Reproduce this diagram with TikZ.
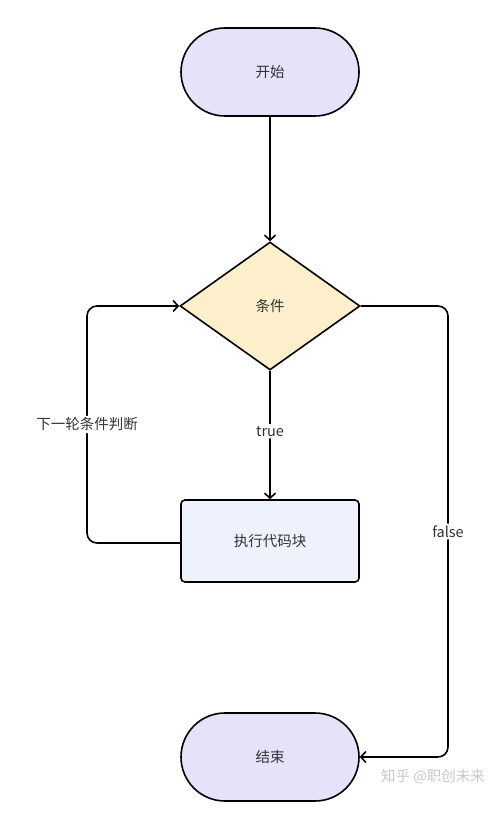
\documentclass[tikz,border=0pt]{standalone}
\usepackage{fontspec}
\setmainfont{Noto Sans CJK SC}
\usetikzlibrary{arrows.meta,shapes.geometric}
\definecolor{termfill}{HTML}{E7E1FA}
\definecolor{condfill}{HTML}{FDEFCB}
\definecolor{blockfill}{HTML}{EEF2FD}
\definecolor{txtgray}{HTML}{333333}
\tikzset{
  every node/.style={font=\fontsize{14.5}{17}\selectfont,text=txtgray},
  term/.style={draw=black,line width=1.6pt,fill=termfill,rounded corners=44pt,
    minimum width=178pt,minimum height=88pt},
  cond/.style={diamond,draw=black,line width=1.6pt,fill=condfill,inner sep=0pt,
    minimum width=180pt,minimum height=128pt,aspect=1.4},
  block/.style={draw=black,line width=1.6pt,fill=blockfill,rounded corners=4pt,
    minimum width=178pt,minimum height=82pt},
  flow/.style={-{Straight Barb[length=5pt,width=11pt,line width=1.6pt]},line width=1.6pt,rounded corners=10pt},
  lbl/.style={fill=white,inner sep=2pt}
}
\begin{document}
\begin{tikzpicture}[x=1pt,y=-1pt]
\useasboundingbox (0,0) rectangle (500,826);
% \draw[help lines] (0,0) grid (500,826);
\node (start) [term] at (270,72) {开始};
\node (cond) [cond] at (270,306) {条件};
\node (body) [block] at (270,541) {执行代码块};
\node (stop) [term] at (270,757) {结束};
%
\coordinate (loopbot) at (87,543);
\coordinate (looptop) at (87,306);
\coordinate (falsetop) at (448,306);
\coordinate (falsebot) at (448,757);
%
\draw[flow] (start) -- (cond.north);
\draw[flow] (cond.south) -- node[lbl,pos=0.47] {true} (body.north);
\draw[flow] (body.west |- loopbot) -- (loopbot) -- node[lbl,pos=0.5] {下一轮条件判断} (looptop) -- (cond.west);
\draw[flow] (cond.east) -- (falsetop) -- node[lbl,pos=0.5] {false} (falsebot) -- (stop.east);
%
\node (mark) [text=black!22] at (433,777) {知乎 @职创未来};
\end{tikzpicture}
\end{document}
